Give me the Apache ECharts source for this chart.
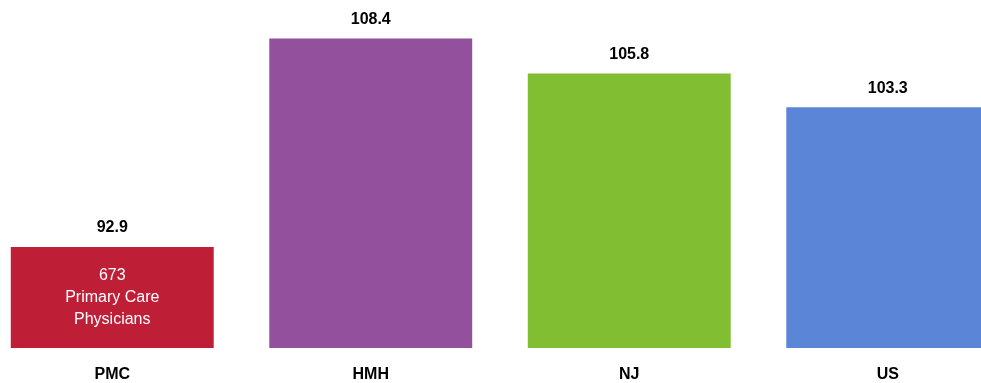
<!DOCTYPE html>
<html>
<head>
<meta charset="utf-8">
<script src="https://cdn.jsdelivr.net/npm/echarts@6/dist/echarts.min.js"></script>
<style>
html,body{margin:0;padding:0;background:#fff;overflow:hidden;width:981px;height:383px;position:relative;}
#c{position:absolute;left:-17px;top:0;width:1034px;height:383px;}
</style>
</head>
<body>
<div id="c"></div>
<script>
var categories = ['PMC', 'HMH', 'NJ', 'US'];
var values = [92.9, 108.4, 105.8, 103.3];
var barColors = ['#BF1E37', '#93509D', '#82BE32', '#5B86D7'];
var innerLabels = ['673\nPrimary Care\nPhysicians', '', '', ''];

var font = '"Liberation Sans", Arial, sans-serif';

var mainData = values.map(function (v, i) {
  return { value: v, itemStyle: { color: barColors[i] } };
});
var overlayData = values.map(function (v, i) {
  return {
    value: v,
    label: { show: innerLabels[i] !== '', formatter: innerLabels[i] }
  };
});

var chart = echarts.init(document.getElementById('c'), null, { renderer: 'canvas' });
chart.setOption({
  animation: false,
  backgroundColor: '#ffffff',
  grid: { left: 0, right: 0, top: 17, bottom: 34.5, containLabel: false },
  xAxis: {
    type: 'category',
    data: categories,
    axisLine: { show: false },
    axisTick: { show: false },
    splitLine: { show: false },
    axisLabel: {
      margin: 19,
      fontFamily: font,
      fontWeight: 'bold',
      fontSize: 16,
      color: '#000'
    }
  },
  yAxis: {
    type: 'value',
    min: 85.4,
    max: 110,
    show: false,
    splitLine: { show: false }
  },
  series: [
    {
      type: 'bar',
      data: mainData,
      barCategoryGap: '21.5%',
      label: {
        show: true,
        position: 'top',
        distance: 11,
        fontFamily: font,
        fontWeight: 'bold',
        fontSize: 16,
        color: '#000',
        formatter: function (p) { return p.value.toFixed(1); }
      }
    },
    {
      type: 'bar',
      data: overlayData,
      barGap: '-100%',
      barCategoryGap: '21.5%',
      itemStyle: { color: 'rgba(0,0,0,0)' },
      silent: true,
      label: {
        show: false,
        position: 'inside',
        fontFamily: font,
        fontSize: 16,
        lineHeight: 22,
        color: '#ffffff'
      }
    }
  ]
});
</script>
</body>
</html>
